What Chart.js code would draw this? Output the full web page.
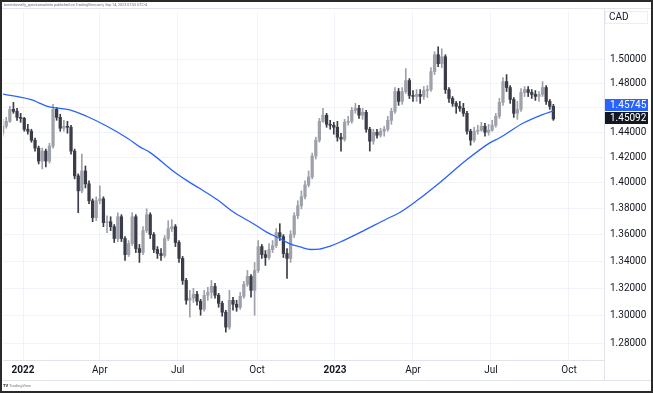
<!DOCTYPE html>
<html>
<head>
<meta charset="utf-8">
<script src="https://cdn.jsdelivr.net/npm/chart.js@4.4.0/dist/chart.umd.min.js"></script>
<style>
html, body { margin: 0; padding: 0; background: #fff; }
canvas { display: block; }
</style>
</head>
<body>
<canvas id="chart" width="653" height="393"></canvas>
<script>
"use strict";
// x = trading session counted from 2022-01-03 (one candle per 3 sessions)
var candleIdx = [-17,-14,-11,-8,-5,-2,1,4,7,10,13,16,19,22,25,28,31,34,37,40,43,46,49,52,55,58,61,64,67,70,
  73,76,79,82,85,88,91,94,97,100,103,106,109,112,115,118,121,124,127,130,133,136,139,142,145,148,151,154,157,160,
  163,166,169,172,175,178,181,184,187,190,193,196,199,202,205,208,211,214,217,220,223,226,229,232,235,238,241,244,247,250,
  253,256,259,262,265,268,271,274,277,280,283,286,289,292,295,298,301,304,307,310,313,316,319,322,325,328,331,334,337,340,
  343,346,349,352,355,358,361,364,367,370,373,376,379,382,385,388,391,394,397,400,403,406,409,412,415,418,421,424,427,430,
  433,436,439,442];

var opens = [1.4394,1.4450,1.4490,1.4587,1.4571,1.4522,1.4514,1.4426,1.4410,1.4338,
  1.4275,1.4172,1.4251,1.4172,1.4291,1.4587,1.4522,1.4434,1.4450,1.4442,
  1.4251,1.4055,1.3938,1.4094,1.3993,1.3861,1.3731,1.3861,1.3876,1.3693,
  1.3700,1.3662,1.3572,1.3738,1.3572,1.3451,1.3534,1.3738,1.3496,1.3466,
  1.3632,1.3754,1.3602,1.3489,1.3459,1.3444,1.3572,1.3647,1.3662,1.3542,
  1.3422,1.3258,1.3112,1.3127,1.3156,1.3105,1.3046,1.3149,1.3170,1.3214,
  1.3149,1.3090,1.3025,1.2917,1.3112,1.3083,1.3061,1.3141,1.3229,1.3288,
  1.3185,1.3332,1.3511,1.3451,1.3429,1.3489,1.3519,1.3617,1.3587,1.3459,
  1.3422,1.3602,1.3746,1.3823,1.3892,1.3985,1.4047,1.4212,1.4338,1.4490,
  1.4539,1.4466,1.4458,1.4442,1.4362,1.4346,1.4482,1.4490,1.4579,1.4595,
  1.4539,1.4563,1.4426,1.4330,1.4402,1.4378,1.4410,1.4426,1.4498,1.4571,
  1.4733,1.4652,1.4733,1.4823,1.4701,1.4693,1.4709,1.4693,1.4741,1.4749,
  1.4898,1.5039,1.4964,1.5022,1.4749,1.4676,1.4636,1.4612,1.4595,1.4555,
  1.4410,1.4338,1.4410,1.4418,1.4450,1.4402,1.4418,1.4458,1.4531,1.4644,
  1.4815,1.4766,1.4668,1.4555,1.4587,1.4725,1.4749,1.4725,1.4709,1.4693,
  1.4709,1.4766,1.4652,1.4612];

var highs = [1.4506,1.4522,1.4612,1.4644,1.4595,1.4555,1.4522,1.4466,1.4426,1.4354,
  1.4291,1.4275,1.4267,1.4314,1.4628,1.4603,1.4547,1.4498,1.4490,1.4458,
  1.4267,1.4071,1.4227,1.4133,1.4016,1.3876,1.3892,1.3977,1.3892,1.3746,
  1.3738,1.3678,1.3769,1.3754,1.3587,1.3557,1.3769,1.3754,1.3527,1.3662,
  1.3799,1.3769,1.3617,1.3511,1.3496,1.3595,1.3708,1.3716,1.3678,1.3557,
  1.3437,1.3273,1.3185,1.3200,1.3178,1.3119,1.3185,1.3207,1.3258,1.3236,
  1.3163,1.3105,1.3039,1.3185,1.3134,1.3112,1.3170,1.3251,1.3332,1.3302,
  1.3392,1.3557,1.3527,1.3481,1.3534,1.3557,1.3647,1.3685,1.3602,1.3496,
  1.3632,1.3769,1.3861,1.3938,1.4016,1.4094,1.4235,1.4362,1.4514,1.4595,
  1.4555,1.4498,1.4482,1.4490,1.4394,1.4506,1.4531,1.4603,1.4636,1.4620,
  1.4595,1.4579,1.4442,1.4426,1.4426,1.4434,1.4450,1.4531,1.4595,1.4766,
  1.4758,1.4766,1.4923,1.4840,1.4741,1.4749,1.4749,1.4774,1.4782,1.4931,
  1.5064,1.5106,1.5089,1.5039,1.4766,1.4692,1.4652,1.4652,1.4636,1.4571,
  1.4426,1.4442,1.4458,1.4482,1.4474,1.4466,1.4498,1.4555,1.4676,1.4848,
  1.4873,1.4782,1.4684,1.4652,1.4758,1.4774,1.4774,1.4749,1.4741,1.4733,
  1.4815,1.4782,1.4668,1.4628];

var lows = [1.4370,1.4434,1.4482,1.4555,1.4498,1.4482,1.4410,1.4386,1.4322,1.4251,
  1.4149,1.4110,1.4125,1.4156,1.4275,1.4498,1.4410,1.4410,1.4394,1.4227,
  1.4032,1.3769,1.3923,1.3961,1.3838,1.3700,1.3708,1.3838,1.3662,1.3617,
  1.3632,1.3542,1.3549,1.3549,1.3407,1.3437,1.3519,1.3466,1.3392,1.3451,
  1.3617,1.3572,1.3466,1.3422,1.3407,1.3429,1.3557,1.3625,1.3511,1.3392,
  1.3229,1.3083,1.2989,1.3097,1.3076,1.3003,1.3032,1.3112,1.3127,1.3127,
  1.3061,1.2996,1.2881,1.2902,1.3039,1.3032,1.3046,1.3127,1.3214,1.3134,
  1.3003,1.3317,1.3422,1.3370,1.3414,1.3466,1.3504,1.3557,1.3429,1.3273,
  1.3392,1.3580,1.3723,1.3799,1.3876,1.3969,1.4032,1.4188,1.4322,1.4482,
  1.4442,1.4426,1.4386,1.4330,1.4251,1.4330,1.4458,1.4474,1.4555,1.4514,
  1.4506,1.4402,1.4251,1.4306,1.4354,1.4362,1.4370,1.4410,1.4466,1.4555,
  1.4620,1.4628,1.4717,1.4676,1.4652,1.4652,1.4636,1.4668,1.4684,1.4733,
  1.4873,1.4939,1.4931,1.4717,1.4644,1.4612,1.4555,1.4571,1.4531,1.4386,
  1.4298,1.4322,1.4386,1.4410,1.4370,1.4378,1.4410,1.4442,1.4514,1.4620,
  1.4733,1.4636,1.4522,1.4506,1.4571,1.4692,1.4692,1.4676,1.4660,1.4652,
  1.4692,1.4628,1.4587,1.4498];

var closes = [1.4450,1.4490,1.4587,1.4571,1.4522,1.4514,1.4426,1.4410,1.4338,1.4275,
  1.4172,1.4251,1.4172,1.4291,1.4587,1.4522,1.4434,1.4450,1.4442,1.4251,
  1.4055,1.3938,1.4094,1.3993,1.3861,1.3731,1.3861,1.3876,1.3693,1.3700,
  1.3662,1.3572,1.3738,1.3572,1.3451,1.3534,1.3738,1.3496,1.3466,1.3632,
  1.3754,1.3602,1.3489,1.3459,1.3444,1.3572,1.3647,1.3662,1.3542,1.3422,
  1.3258,1.3112,1.3127,1.3156,1.3105,1.3046,1.3149,1.3170,1.3214,1.3149,
  1.3090,1.3025,1.2917,1.3112,1.3083,1.3061,1.3141,1.3229,1.3288,1.3185,
  1.3332,1.3511,1.3451,1.3429,1.3489,1.3519,1.3617,1.3587,1.3459,1.3422,
  1.3602,1.3746,1.3823,1.3892,1.3985,1.4047,1.4212,1.4338,1.4490,1.4539,
  1.4466,1.4458,1.4442,1.4362,1.4346,1.4482,1.4490,1.4579,1.4595,1.4539,
  1.4563,1.4426,1.4330,1.4402,1.4378,1.4410,1.4426,1.4498,1.4571,1.4733,
  1.4652,1.4733,1.4823,1.4701,1.4693,1.4709,1.4693,1.4741,1.4749,1.4898,
  1.5039,1.4964,1.5022,1.4749,1.4676,1.4636,1.4612,1.4595,1.4555,1.4410,
  1.4338,1.4410,1.4418,1.4450,1.4402,1.4418,1.4458,1.4531,1.4644,1.4815,
  1.4766,1.4668,1.4555,1.4587,1.4725,1.4749,1.4725,1.4709,1.4693,1.4709,
  1.4766,1.4652,1.4612,1.45092];

// 200-day moving average
var maIdx = [-17,6,22,39,53,70,87,97,106,125,137,147,162,175,192,203,214,222,231,240,
  247,256,264,281,303,314,328,349,369,389,397,417,433,442];
var maVals = [1.4712,1.4668,1.4607,1.4583,1.4531,1.4450,1.4354,1.4287,1.4239,1.4094,1.4016,1.3958,1.3869,1.3776,1.3685,1.3621,1.3572,1.3534,1.3508,1.3489,
  1.3492,1.3515,1.3544,1.3619,1.3721,1.3771,1.3861,1.4016,1.4176,1.4317,1.4356,1.4476,1.4545,1.45745];

var xTickIdx = [0, 64, 129, 195, 260, 325, 390, 455];
var xTickLabels = ["2022", "Apr", "Jul", "Oct", "2023", "Apr", "Jul", "Oct"];
var yTicks = [1.28, 1.30, 1.32, 1.34, 1.36, 1.38, 1.40, 1.42, 1.44, 1.46, 1.48, 1.50];

var headerText = "brentdonnelly_spectramarkets published on TradingView.com, Sep 14, 2023 07:53 UTC-4";
var upColor = "#9ea1aa", downColor = "#3a3d47";
var textColor = "#131722", lineColor = "#e0e3eb", gridColor = "#f0f3fa";

function candleColor(i) {
    return closes[i] >= opens[i] ? upColor : downColor;
}

var wickData = candleIdx.map(function (x, i) { return { x: x, y: [lows[i], highs[i]] }; });
var bodyData = candleIdx.map(function (x, i) { return { x: x, y: [opens[i], closes[i]] }; });
var maData = maIdx.map(function (x, i) { return { x: x, y: maVals[i] }; });

var overlay = {
    id: "overlay",
    afterDraw: function (chart) {
        var c = chart.ctx, ys = chart.scales.y;
        var last = closes.length - 1;
        c.save();
        // header line
        c.fillStyle = "#6a6d78";
        c.font = "4px Roboto";
        c.textAlign = "left";
        c.textBaseline = "middle";
        c.fillText(headerText, 4, 5, 143);
        c.strokeStyle = lineColor;
        c.lineWidth = 1;
        c.beginPath();
        c.moveTo(2, 8.5); c.lineTo(651, 8.5);
        c.moveTo(2, 380.5); c.lineTo(651, 380.5);
        c.moveTo(604.5, 9); c.lineTo(604.5, 380);
        c.stroke();
        // currency box
        c.strokeStyle = "#eceef2";
        c.strokeRect(605.5, 11.5, 42, 12);
        c.fillStyle = textColor;
        c.font = "10px Roboto";
        c.fillText("CAD", 609, 17.5);
        // last price and MA labels
        var yC = ys.getPixelForValue(closes[last]);
        var yM = ys.getPixelForValue(maVals[maVals.length - 1]);
        var cTop = Math.round(yC) - 7;
        var mTop = Math.min(Math.round(yM) - 6, cTop - 13);
        c.fillStyle = "#2962ff";
        c.fillRect(605, mTop, 43, 12);
        c.fillStyle = "#131722";
        c.fillRect(605, cTop, 43, 12);
        c.fillStyle = "#ffffff";
        c.fillText(maVals[maVals.length - 1].toFixed(5), 610, mTop + 6.5);
        c.fillText(closes[last].toFixed(5), 610, cTop + 6.5);
        // watermark
        c.fillStyle = textColor;
        c.font = "bold 4px Roboto";
        c.fillText("TV", 3, 386);
        c.fillStyle = "#787b86";
        c.font = "4px Roboto";
        c.fillText("TradingView", 9, 386);
        // frame
        c.strokeStyle = "#2a2a2a";
        c.lineWidth = 2;
        c.strokeRect(1, 1, 651, 391);
        c.restore();
    }
};

new Chart(document.getElementById("chart"), {
    type: "bar",
    data: {
        datasets: [{
            type: "line",
            data: maData,
            borderColor: "#2962ff",
            borderWidth: 1.3,
            pointRadius: 0,
            cubicInterpolationMode: "monotone",
            order: 0
        }, {
            data: bodyData,
            backgroundColor: function (ctx) { return candleColor(ctx.dataIndex); },
            barThickness: 2.6,
            grouped: false,
            order: 1
        }, {
            data: wickData,
            backgroundColor: function (ctx) { return candleColor(ctx.dataIndex); },
            barThickness: 1,
            grouped: false,
            order: 2
        }]
    },
    options: {
        responsive: false,
        animation: false,
        devicePixelRatio: 1,
        events: [],
        layout: { padding: { left: 3, top: 10, right: 0, bottom: 13 } },
        plugins: { legend: { display: false }, tooltip: { enabled: false } },
        scales: {
            x: {
                type: "linear",
                min: -16.7,
                max: 484.2,
                offset: false,
                grid: { color: gridColor, drawTicks: false, offset: false },
                border: { color: lineColor },
                afterBuildTicks: function (s) { s.ticks = xTickIdx.map(function (v) { return { value: v }; }); },
                afterFit: function (s) { s.height = 20; },
                ticks: {
                    autoSkip: false,
                    maxRotation: 0,
                    padding: 4,
                    color: textColor,
                    font: function (c) {
                        var lab = xTickLabels[c.index] || "";
                        return { family: "Roboto", size: 10, weight: /^\d{4}$/.test(lab) ? "bold" : "normal" };
                    },
                    callback: function (v) {
                        var j = xTickIdx.indexOf(v);
                        return j < 0 ? "" : xTickLabels[j];
                    }
                }
            },
            y: {
                type: "logarithmic",
                position: "right",
                min: 1.2682,
                max: 1.5402,
                grid: { color: gridColor, drawTicks: false },
                border: { color: lineColor },
                afterBuildTicks: function (s) { s.ticks = yTicks.map(function (v) { return { value: v }; }); },
                afterFit: function (s) { s.width = 49; },
                ticks: {
                    padding: 6,
                    color: textColor,
                    font: { family: "Roboto", size: 10 },
                    callback: function (v) { return Number(v).toFixed(5); }
                }
            }
        }
    },
    plugins: [overlay]
});
</script>
</body>
</html>
